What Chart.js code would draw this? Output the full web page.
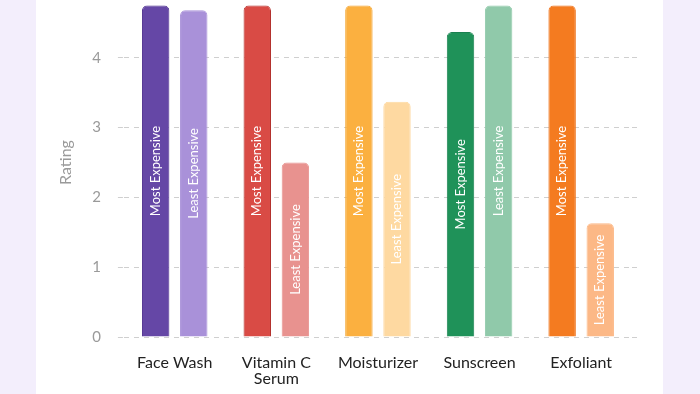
<!DOCTYPE html>
<html>
<head>
<meta charset="utf-8">
<script src="https://cdn.jsdelivr.net/npm/chart.js@4.4.1/dist/chart.umd.min.js"></script>
<style>
  html, body { margin: 0; padding: 0; width: 700px; height: 394px; overflow: hidden; background: #f3eefc; }
  #card { position: absolute; left: 36px; top: 0; width: 627px; height: 394px; background: #ffffff; overflow: hidden; }
  #wrap { position: absolute; left: 0; top: -38px; width: 627px; height: 447px; }
</style>
</head>
<body>
<div id="card"><div id="wrap"><canvas id="c" width="627" height="447"></canvas></div></div>
<script>
const categories = ['Face Wash', ['Vitamin C', 'Serum'], 'Moisturizer', 'Sunscreen', 'Exfoliant'];
const mostExpensive = [4.75, 4.75, 4.75, 4.37, 4.75];
const leastExpensive = [4.68, 2.5, 3.37, 4.75, 1.63];
const seriesNames = ['Most Expensive', 'Least Expensive'];
const mostColors = ['#6547a6', '#d94b45', '#fbb040', '#1f9259', '#f47b20'];
const mostBorders = ['#4b2c8c', '#b3302c', '#f3a530', '#1a8050', '#ee7018'];
const leastColors = ['#a991d9', '#e8928f', '#fed9a1', '#90c9aa', '#fcb886'];
const yMin = 0, yMax = 5, yStep = 1;

const gridColor = '#cfcfcf';

const barLabels = {
  id: 'barLabels',
  afterDatasetsDraw(chart) {
    const ctx = chart.ctx;
    chart.data.datasets.forEach((ds, i) => {
      const meta = chart.getDatasetMeta(i);
      meta.data.forEach(bar => {
        const p = bar.getProps(['x', 'y', 'base'], true);
        ctx.save();
        ctx.translate(p.x, (p.y + p.base) / 2);
        ctx.rotate(-Math.PI / 2);
        ctx.fillStyle = '#ffffff';
        ctx.font = '13px Lato';
        ctx.textAlign = 'center';
        ctx.textBaseline = 'middle';
        ctx.fillText(ds.label, 0, 0);
        ctx.restore();
      });
    });
  }
};

new Chart(document.getElementById('c'), {
  type: 'bar',
  data: {
    labels: categories,
    datasets: [
      { label: seriesNames[0], data: mostExpensive, backgroundColor: mostColors, borderColor: mostBorders,
        borderWidth: 1, borderRadius: 5, borderSkipped: 'start' },
      { label: seriesNames[1], data: leastExpensive, backgroundColor: leastColors, borderColor: leastColors,
        borderWidth: 1, borderRadius: 5, borderSkipped: 'start' }
    ]
  },
  options: {
    responsive: false,
    animation: false,
    events: [],
    layout: { padding: { left: 15, right: 25, top: 0, bottom: 4 } },
    categoryPercentage: 0.75,
    barPercentage: 0.72,
    plugins: { legend: { display: false }, tooltip: { enabled: false } },
    scales: {
      x: {
        grid: { display: false, drawTicks: false },
        border: { display: false },
        ticks: { color: '#222222', font: { family: 'Lato', size: 16, lineHeight: 1.0 }, padding: 18, maxRotation: 0, autoSkip: false }
      },
      y: {
        min: yMin, max: yMax,
        grid: { color: gridColor, tickColor: gridColor, tickLength: 6, tickBorderDash: [5, 5] },
        border: { display: false, dash: [5, 5] },
        ticks: { stepSize: yStep, color: '#9a9a9a', font: { family: 'Lato', size: 15 }, padding: 17 },
        title: { display: true, text: 'Rating', color: '#9a9a9a', font: { family: 'Lato', size: 16 }, padding: { top: 5, bottom: 0 } }
      },
      y2: {
        position: 'right',
        min: yMin, max: yMax,
        grid: { drawOnChartArea: false, color: gridColor, tickColor: gridColor, tickLength: 6, tickBorderDash: [5, 5] },
        border: { display: false },
        ticks: { display: false, stepSize: yStep }
      }
    }
  },
  plugins: [barLabels]
});
</script>
</body>
</html>
